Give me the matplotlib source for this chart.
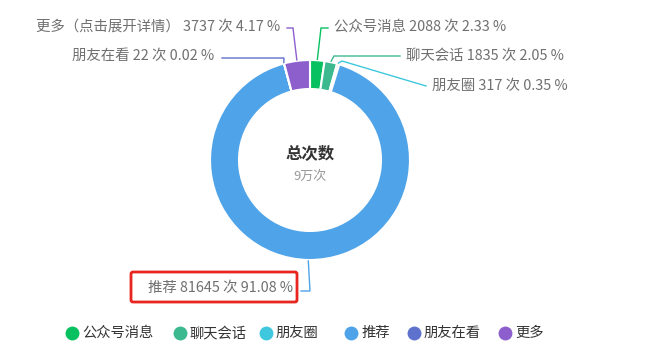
import matplotlib
matplotlib.use("Agg")
import matplotlib.pyplot as plt
from matplotlib.patches import FancyBboxPatch
import numpy as np

plt.rcParams['font.family'] = ['Noto Sans CJK SC', 'DejaVu Sans']

categories = ['公众号消息', '聊天会话', '朋友圈', '推荐', '朋友在看', '更多']
label_names = ['公众号消息', '聊天会话', '朋友圈', '推荐', '朋友在看', '更多（点击展开详情）']
values = [2088, 1835, 317, 81645, 22, 3737]
colors = ['#07c160', '#3cb98e', '#3fc8dd', '#4fa3e8', '#5e72cd', '#8c5fcd']
center_title = '总次数'
center_sub = '9万次'

W, H = 657, 359
fig = plt.figure(figsize=(W / 100, H / 100), dpi=100)
ax = fig.add_axes([0, 0, 1, 1])

def Y(y):
    return H - y

cx, cy, R, ring = 310, 160, 100, 29
total = sum(values)
wedges, _ = ax.pie(values, colors=colors, radius=R, center=(cx, Y(cy)),
                   startangle=90, counterclock=False,
                   wedgeprops=dict(width=ring, edgecolor='white', linewidth=1.5))
ax.set_xlim(0, W)
ax.set_ylim(0, H)
ax.set_aspect('equal')
ax.axis('off')

# label layout: (elbow_x, elbow_y, end_x, text_x, text_y, ha)
layout = {
    0: (321, 28, 328, 334, 27, 'left'),
    1: (334, 56, 400, 406, 56, 'left'),
    2: (342, 61, 426, 432, 86, 'left'),
    3: (310, 291, 301, 293, 288, 'right'),
    4: (284, 58, 222, 214, 56, 'right'),
    5: (293, 28, 287, 280, 27, 'right'),
}
label_color = '#707070'
cum = 0
for i, v in enumerate(values):
    frac = v / total
    mid = cum + frac / 2
    cum += frac
    ang = np.deg2rad(90 - mid * 360)
    sx = cx + (R + 1) * np.cos(ang)
    sy = Y(cy) + (R + 1) * np.sin(ang)
    ex, ey, endx, tx, ty, ha = layout[i]
    if i == 2:
        xs = [sx, ex, endx]
        ys = [sy, Y(ey), Y(ty)]
    else:
        xs = [sx, ex, endx]
        ys = [sy, Y(ey), Y(ey)]
    ax.plot(xs, ys, color=colors[i], lw=1, solid_joinstyle='miter')
    txt = f'{label_names[i]} {v} 次 {v / total * 100:.2f} %'
    ax.text(tx, Y(ty), txt, ha=ha, va='center', fontsize=10.4, color=label_color)

# red highlight box around 推荐 label
box = FancyBboxPatch((131, Y(302)), 166, 30, boxstyle='round,pad=0,rounding_size=2',
                     fill=False, edgecolor='#e8261f', lw=2)
ax.add_patch(box)

# center text
ax.text(cx, Y(154), center_title, ha='center', va='center', fontsize=11.8,
        fontweight='bold', color='#333333')
ax.text(cx, Y(176), center_sub, ha='center', va='center', fontsize=9.4, color='#999999')

# legend
leg_x = [72, 180, 266, 351, 414, 505]
for i, name in enumerate(categories):
    ax.scatter([leg_x[i]], [Y(333)], s=100, color=colors[i], linewidths=0, zorder=3)
    ax.text(leg_x[i] + 10, Y(333), name, ha='left', va='center', fontsize=10.3, color='#333333')

fig.savefig('out.png', dpi=100)
